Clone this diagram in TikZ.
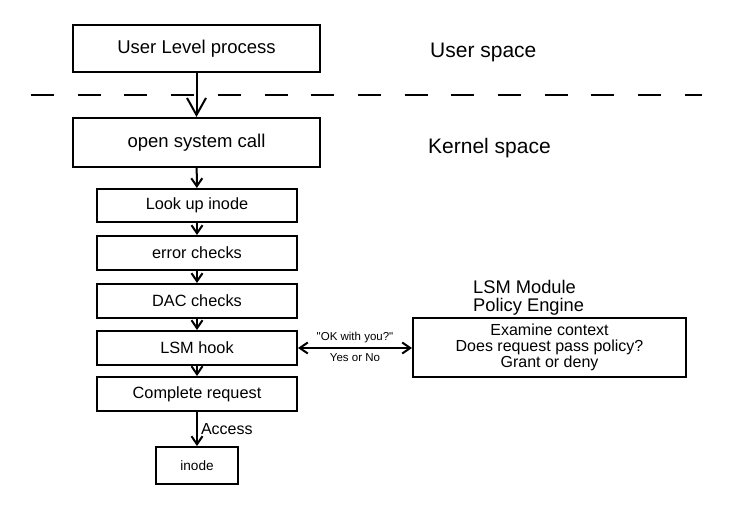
\documentclass[tikz,border=0pt]{standalone}
\usepackage{fontspec}
\setmainfont{Liberation Sans}
\usetikzlibrary{arrows.meta}

\begin{document}
\begin{tikzpicture}[x=1pt,y=1pt,
  box/.style={draw, line width=2pt, inner sep=0pt, align=center},
  flow/.style={line width=2pt, -{Straight Barb[length=8pt,width=11pt,line width=2pt]}},
  bigflow/.style={line width=2pt, -{Straight Barb[length=17pt,width=19pt,line width=2pt]}}]
\useasboundingbox (0,0) rectangle (743,506);

\node[box, minimum width=247, minimum height=47, font=\fontsize{18.5}{20}\selectfont] (user) at (196.5,457.5) {User Level process};
\node[box, minimum width=247, minimum height=49, font=\fontsize{18.5}{20}\selectfont] (open) at (196.5,363.5) {open system call};
\node[box, minimum width=200, minimum height=33, font=\fontsize{16.3}{18}\selectfont] (lookup) at (197,300.5) {Look up inode};
\node[box, minimum width=200, minimum height=34, font=\fontsize{16.3}{18}\selectfont] (error) at (197,253) {error checks};
\node[box, minimum width=200, minimum height=34, font=\fontsize{16.3}{18}\selectfont] (dac) at (197,205) {DAC checks};
\node[box, minimum width=200, minimum height=34, font=\fontsize{16.3}{18}\selectfont] (hook) at (197,158) {LSM hook};
\node[box, minimum width=200, minimum height=34, font=\fontsize{16.3}{18}\selectfont] (complete) at (197,112) {Complete request};
\node[box, minimum width=82, minimum height=37, font=\fontsize{13.6}{15}\selectfont] (inode) at (197,40.5) {inode};
\node[box, minimum width=273, minimum height=59, font=\fontsize{16}{16}\selectfont] (engine) at (549.5,158.5) {Examine context\\Does request pass policy?\\Grant or deny};

\node[anchor=west, align=left, inner sep=0pt, font=\fontsize{18.3}{18}\selectfont] (module) at (473,208) {LSM Module\\Policy Engine};
\node[anchor=west, inner sep=0pt, font=\fontsize{21}{24}\selectfont] (userspace) at (430,454) {User space};
\node[anchor=west, inner sep=0pt, font=\fontsize{21}{24}\selectfont] (kernelspace) at (428,358) {Kernel space};

\draw[line width=2pt, dash pattern=on 23pt off 23.7pt] (31,411) -- (702,411);

\draw[bigflow] (user) -- (open);
\draw[flow] (open) -- (lookup);
\draw[flow] (lookup) -- (error);
\draw[flow] (error) -- (dac);
\draw[flow] (dac) -- (hook);
\draw[flow] (hook) -- (complete);
\draw[flow] (complete) -- node[right, inner sep=3pt, font=\fontsize{16}{18}\selectfont] {Access} (inode);
\draw[line width=2pt, {Straight Barb[length=8pt,width=11pt,line width=2pt]}-{Straight Barb[length=8pt,width=11pt,line width=2pt]}] (hook) -- node[above, inner sep=4pt, font=\fontsize{11.5}{13}\selectfont] {\textquotedbl OK with you?\textquotedbl} node[below, inner sep=5pt, font=\fontsize{11.5}{13}\selectfont] {Yes or No} (hook -| engine.west);

\end{tikzpicture}
\end{document}
